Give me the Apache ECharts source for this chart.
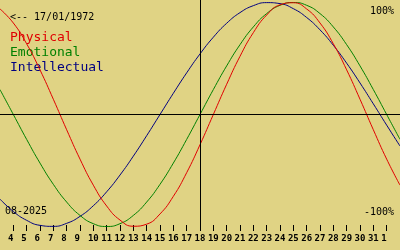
<!DOCTYPE html>
<html>
<head>
<meta charset="utf-8">
<script src="https://cdn.jsdelivr.net/npm/echarts@6/dist/echarts.min.js"></script>
<style>html,body{margin:0;padding:0;background:#e0d384;}#c{width:400px;height:250px;}</style>
</head>
<body>
<div id="c"></div>
<script>
// Days of August 2025 shown (32 = 1 Sep, 33 = 2 Sep)
const days = [3,4,5,6,7,8,9,10,11,12,13,14,15,16,17,18,19,20,21,22,23,24,25,26,27,28,29,30,31,32,33];
const physical = [0.9423,0.8170,0.6311,0.3984,0.1362,-0.1362,-0.3984,-0.6311,-0.8170,-0.9423,-0.9977,-0.9791,-0.8880,-0.7308,-0.5196,-0.2698,0,0.2698,0.5196,0.7308,0.8880,0.9791,0.9977,0.9423,0.8170,0.6311,0.3984,0.1362,-0.1362,-0.3984,-0.6311];
const emotional = [0.2225,0,-0.2225,-0.4339,-0.6235,-0.7818,-0.9010,-0.9749,-1,-0.9749,-0.9010,-0.7818,-0.6235,-0.4339,-0.2225,0,0.2225,0.4339,0.6235,0.7818,0.9010,0.9749,1,0.9749,0.9010,0.7818,0.6235,0.4339,0.2225,0,-0.2225];
const intellectual = [-0.7557,-0.8660,-0.9450,-0.9898,-0.9989,-0.9718,-0.9096,-0.8146,-0.6901,-0.5406,-0.3717,-0.1893,0,0.1893,0.3717,0.5406,0.6901,0.8146,0.9096,0.9718,0.9989,0.9898,0.9450,0.8660,0.7557,0.6182,0.4582,0.2817,0.0950,-0.0950,-0.2817];
const tickDays = [4,5,6,7,8,9,10,11,12,13,14,15,16,17,18,19,20,21,22,23,24,25,26,27,28,29,30,31,32];
const tickLabels = ['4','5','6','7','8','9','10','11','12','13','14','15','16','17','18','19','20','21','22','23','24','25','26','27','28','29','30','31','1'];
const todayDay = 18;
const birthText = '<-- 17/01/1972';
const monthText = '08-2025';
const seriesNames = ['Physical','Emotional','Intellectual'];
const seriesColors = ['#e00000','#008000','#000080'];

const MONO = '"DejaVu Sans Mono", "Liberation Mono", monospace';
const chart = echarts.init(document.getElementById('c'), null, {renderer:'canvas'});
const toPairs = arr => days.map((d,i)=>[d, arr[i]]);
const allData = [physical, emotional, intellectual];

const series = allData.map((arr,i)=>({
  name: seriesNames[i], type:'line', data: toPairs(arr), smooth: 0.5,
  showSymbol:false, silent:true,
  lineStyle:{color:seriesColors[i], width:1},
  z: 3 - i
}));
series.push({
  type:'line', data:[], silent:true,
  markLine:{symbol:'none', silent:true, label:{show:false},
    lineStyle:{color:'#000', width:1, type:'solid'},
    data:[{xAxis: todayDay}, {yAxis: 0}]}
});

chart.setOption({
  animation:false,
  backgroundColor:'#e0d384',
  grid:{left:0, right:0, top:0, bottom:19},
  xAxis:{type:'value', min:3, max:33, interval:1,
    axisLine:{show:false, onZero:false},
    axisTick:{show:true, inside:true, length:6, customValues: tickDays, lineStyle:{color:'#000', width:1}},
    axisLabel:{customValues: tickDays, margin:3, color:'#000', fontFamily:MONO, fontSize:9, fontWeight:'bold',
      formatter: v => { const l = tickLabels[tickDays.indexOf(v)] || ''; return l.length === 1 ? l + ' ' : l; }},
    splitLine:{show:false}},
  yAxis:{type:'value', min:-1.0402, max:1.0223, show:false, splitLine:{show:false}},
  series: series,
  graphic:[
    {type:'text', left:10, top:12, style:{text:birthText, font:'10px '+MONO, fill:'#000'}},
    {type:'text', left:10, top:31, style:{text:seriesNames[0], font:'13px '+MONO, fill:seriesColors[0]}},
    {type:'text', left:10, top:46, style:{text:seriesNames[1], font:'13px '+MONO, fill:seriesColors[1]}},
    {type:'text', left:10, top:61, style:{text:seriesNames[2], font:'13px '+MONO, fill:seriesColors[2]}},
    {type:'text', right:6, top:6, style:{text:'100%', font:'10px '+MONO, fill:'#000'}},
    {type:'text', right:6, top:207, style:{text:'-100%', font:'10px '+MONO, fill:'#000'}},
    {type:'text', left:5, top:206, style:{text:monthText, font:'10px '+MONO, fill:'#000'}}
  ]
});
</script>
</body>
</html>
